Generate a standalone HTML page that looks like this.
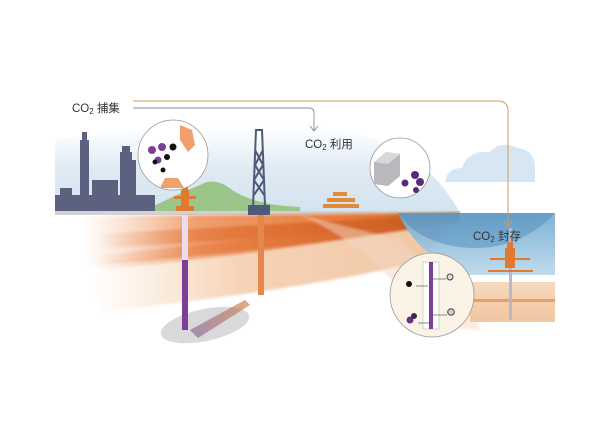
<!DOCTYPE html>
<html><head><meta charset="utf-8"><style>
html,body{margin:0;padding:0;background:#fff;}
svg{display:block;}
text{font-family:"Liberation Sans","Noto Sans CJK SC",sans-serif;fill:#333;}
</style></head><body>
<svg width="600" height="424" viewBox="0 0 600 424" xmlns="http://www.w3.org/2000/svg">
<defs>
<linearGradient id="sky" x1="0" y1="0" x2="0" y2="1">
<stop offset="0" stop-color="#e8f1f8" stop-opacity="0"/><stop offset="0.5" stop-color="#dfeaf3"/><stop offset="1" stop-color="#d3e4ef"/></linearGradient>
<linearGradient id="strata" x1="0" y1="0" x2="1" y2="0">
<stop offset="0" stop-color="#f3c4a0" stop-opacity="0"/><stop offset="0.3" stop-color="#f0a070"/><stop offset="0.8" stop-color="#e4702c"/><stop offset="1" stop-color="#8a4a2a"/></linearGradient>
<linearGradient id="band" x1="0" y1="0" x2="1" y2="0">
<stop offset="0" stop-color="#e06a2a" stop-opacity="0"/><stop offset="0.4" stop-color="#e06a2a" stop-opacity="0.7"/><stop offset="1" stop-color="#c25a20" stop-opacity="0.9"/></linearGradient>
<linearGradient id="lower" x1="0" y1="0" x2="1" y2="0">
<stop offset="0" stop-color="#f7d4b8" stop-opacity="0"/><stop offset="0.4" stop-color="#f5cfb0"/><stop offset="1" stop-color="#f0c09a"/></linearGradient>
<linearGradient id="water" x1="0" y1="0" x2="0" y2="1">
<stop offset="0" stop-color="#6fa9d0"/><stop offset="1" stop-color="#b9d7ea"/></linearGradient>
<linearGradient id="sand" x1="0" y1="0" x2="0" y2="1">
<stop offset="0" stop-color="#f6d9bf"/><stop offset="1" stop-color="#f2c6a0"/></linearGradient>
<linearGradient id="res" x1="0" y1="0" x2="1" y2="0">
<stop offset="0" stop-color="#8a6fa0"/><stop offset="1" stop-color="#d4844a"/></linearGradient>
<filter id="bl"><feGaussianBlur stdDeviation="1.2"/></filter>
</defs>

<path d="M55 213 L55 140 Q200 118 330 128 Q420 140 460 213 Z" fill="url(#sky)"/>
<path d="M140 213 Q175 195 200 185 Q215 176 232 190 Q255 205 300 207 L300 213 Z" fill="#9cc58a"/>
<g fill="#5c6180">
<rect x="55" y="195" width="100" height="18"/>
<rect x="80" y="140" width="9" height="60"/><rect x="82" y="132" width="5" height="10"/>
<rect x="120" y="152" width="12" height="48"/><rect x="122" y="146" width="8" height="8"/>
<rect x="132" y="160" width="4" height="40"/>
<rect x="92" y="180" width="26" height="20"/>
<rect x="60" y="188" width="12" height="8"/>
</g>
<rect x="55" y="211" width="405" height="4" fill="#d2d2d6"/>
<g filter="url(#bl)">
<path d="M90 262 Q300 245 460 215 L420 262 Q300 290 100 312 Z" fill="url(#lower)" opacity="0.9"/>
<path d="M80 216 L460 213 L460 222 Q300 248 90 266 Z" fill="url(#strata)"/>
<path d="M95 234 L460 214 L460 218 Q300 238 100 248 Z" fill="url(#band)"/>
<path d="M95 256 L460 216 L460 220 Q300 250 100 270 Z" fill="url(#band)" opacity="0.8"/>
<path d="M300 215 Q360 240 410 300 Q440 330 480 330 L470 300 Q430 270 400 240 Z" fill="#f4d8c4" opacity="0.5"/>
</g>
<path d="M398 213 L555 213 L555 275 L470 275 Q420 260 398 213 Z" fill="url(#water)" opacity="0.9"/>
<path d="M398 213 L555 213 Q520 250 470 248 Q420 245 398 213Z" fill="#4a88b8" opacity="0.45"/>
<rect x="470" y="282" width="85" height="40" fill="url(#sand)"/>
<rect x="470" y="299" width="85" height="3" fill="#e8a06a"/>
<path d="M445 182 Q447 168 462 168 Q468 150 490 152 Q500 140 518 148 Q535 150 535 168 L535 182 Z" fill="#d7e6f3"/>
<ellipse cx="205" cy="325" rx="45" ry="16" fill="#d9d9dc" transform="rotate(-12 205 325)"/>
<path d="M190 330 L245 300 L250 305 L198 338 Z" fill="url(#res)" opacity="0.7"/>
<rect x="182" y="215" width="6" height="115" fill="#ecdcef"/>
<rect x="182" y="260" width="6" height="70" fill="#7b3f98"/>
<rect x="258" y="215" width="6" height="80" fill="#e3874a"/>
<rect x="509" y="228" width="3" height="92" fill="#bdb6c4"/>
<g fill="#e07a2e"><rect x="176" y="206" width="18" height="5"/><rect x="181" y="190" width="8" height="17"/><rect x="182" y="185" width="6" height="6"/><rect x="174" y="196" width="22" height="3"/></g>
<g stroke="#4f5a7a" stroke-width="2" fill="none">
<path d="M253 206 L256 130 L262 130 L265 206"/>
<path d="M255 150 L263 165 L254 180 L264 195 M263 150 L255 165 L264 180 L254 195"/>
</g>
<rect x="248" y="205" width="22" height="10" fill="#4f5a7a"/>
<g fill="#e38a3a"><rect x="323" y="204" width="36" height="4"/><rect x="327" y="198" width="28" height="4"/><rect x="333" y="192" width="14" height="4"/></g>
<g fill="#e07a2e"><rect x="505" y="248" width="10" height="20"/><rect x="507" y="242" width="6" height="6"/><rect x="490" y="258" width="40" height="2" /><rect x="488" y="270" width="45" height="2"/></g>
<circle cx="173" cy="155" r="35" fill="#fff" stroke="#999" stroke-width="0.8"/>
<path d="M180 125 L192 130 L195 145 L188 152 L180 140Z" fill="#f0a06a"/>
<path d="M160 188 L165 178 L178 178 L184 188Z" fill="#f0a06a"/>
<g fill="#7b3f98"><circle cx="152" cy="150" r="4"/><circle cx="162" cy="147" r="4"/><circle cx="158" cy="160" r="3.5"/></g>
<g fill="#111"><circle cx="173" cy="147" r="3.5"/><circle cx="163" cy="170" r="2.5"/><circle cx="155" cy="162" r="2.5"/><circle cx="167" cy="157" r="3"/></g>
<circle cx="400" cy="168" r="30" fill="#fff" stroke="#999" stroke-width="0.8"/>
<path d="M374 162 L386 152 L400 154 L400 176 L388 186 L374 184Z" fill="#b9b9bd"/>
<path d="M386 152 L400 154 L388 164 L374 162Z" fill="#d8d8dc"/>
<g fill="#5a2a78"><circle cx="415" cy="175" r="4"/><circle cx="420" cy="182" r="4"/><circle cx="405" cy="183" r="3.5"/><circle cx="416" cy="190" r="3"/></g>
<circle cx="432" cy="295" r="42" fill="#fbf4e6" stroke="#999" stroke-width="0.8"/>
<rect x="423" y="262" width="16" height="67" fill="#fff" stroke="#bbb" stroke-width="0.6"/>
<rect x="429" y="262" width="4" height="67" fill="#7b3f98"/>
<circle cx="409" cy="284" r="3" fill="#111"/><circle cx="450" cy="277" r="3" fill="#ddd" stroke="#444"/>
<circle cx="451" cy="312" r="3.3" fill="#ccc" stroke="#444"/>
<circle cx="410" cy="320" r="3.5" fill="#6b2e88"/><circle cx="414" cy="316" r="3" fill="#3a2a4a"/>
<path d="M416 286 L428 286 M433 279 L446 279 M418 323 L429 323 M433 315 L447 315" stroke="#666" stroke-width="0.8" fill="none"/>
<path d="M133 101 L498 101 Q508 101 508 111 L508 226" stroke="#d59a5c" stroke-width="1" fill="none"/>
<path d="M504 221 L508 227 L512 221" stroke="#d59a5c" stroke-width="1" fill="none"/>
<path d="M133 108 L309 108 Q314 108 314 113 L314 130" stroke="#8a8a9a" stroke-width="0.9" fill="none"/>
<path d="M310 126 L314 131 L318 126" stroke="#8a8a9a" stroke-width="0.9" fill="none"/>
<text x="72" y="112" font-size="11.5">CO<tspan font-size="8" dy="2">2</tspan><tspan dy="-2"> 捕集</tspan></text>
<text x="305" y="148" font-size="11.5">CO<tspan font-size="8" dy="2">2</tspan><tspan dy="-2"> 利用</tspan></text>
<text x="473" y="240" font-size="11.5">CO<tspan font-size="8" dy="2">2</tspan><tspan dy="-2"> 封存</tspan></text>
</svg>
</body></html>
